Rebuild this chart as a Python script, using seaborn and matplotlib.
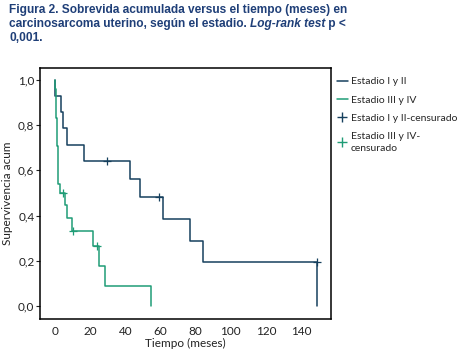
import matplotlib
matplotlib.use("Agg")
import matplotlib.pyplot as plt
import seaborn as sns
import pandas as pd
from matplotlib.lines import Line2D

# Kaplan-Meier steps
t_12 = [0, 0.2, 3.2, 4.4, 7.0, 16.6, 42.6, 48.3, 61.5, 76.7, 84.0, 149.0]
s_12 = [1.0, 0.929, 0.857, 0.786, 0.714, 0.643, 0.563, 0.482, 0.386, 0.289, 0.193, 0.0]
cens_t_12 = [29.4, 59.3, 149.0]
cens_s_12 = [0.643, 0.482, 0.193]

t_34 = [0, 0.2, 0.4, 0.6, 0.8, 1.0, 1.2, 1.4, 1.6, 1.9, 2.8, 5.7, 6.6, 9.5, 21.8, 24.8, 28.6, 54.5]
s_34 = [1.0, 0.958, 0.917, 0.875, 0.833, 0.792, 0.75, 0.708, 0.625, 0.54, 0.50, 0.447, 0.39, 0.333, 0.267, 0.178, 0.089, 0.0]
cens_t_34 = [4.4, 10.4, 23.7]
cens_s_34 = [0.50, 0.333, 0.267]

labels = ["Estadio I y II", "Estadio III y IV",
          "Estadio I y II-censurado", "Estadio III y IV-\ncensurado"]
yticks = [0.0, 0.2, 0.4, 0.6, 0.8, 1.0]
xticks = [0, 20, 40, 60, 80, 100, 120, 140]

navy = "#16405e"
green = "#1f9c76"

sns.set_style("white")
plt.rcParams["font.family"] = ["Lato", "DejaVu Sans"]

fig = plt.figure(figsize=(4.65, 3.55), dpi=100)
ax = fig.add_axes([40 / 465, 36 / 355, 291 / 465, 251 / 355])

df12 = pd.DataFrame({"t": t_12, "s": s_12})
df34 = pd.DataFrame({"t": t_34, "s": s_34})
sns.lineplot(data=df12, x="t", y="s", drawstyle="steps-post", estimator=None,
             sort=False, color=navy, lw=1.1, ax=ax)
sns.lineplot(data=df34, x="t", y="s", drawstyle="steps-post", estimator=None,
             sort=False, color=green, lw=1.1, ax=ax)
sns.scatterplot(x=cens_t_12, y=cens_s_12, marker="+", s=30, color=navy,
                linewidth=0.9, ax=ax)
sns.scatterplot(x=cens_t_34, y=cens_s_34, marker="+", s=30, color=green,
                linewidth=0.9, ax=ax)

ax.set_xlim(-8.5, 157)
ax.set_ylim(-0.058, 1.053)
ax.set_xticks(xticks)
ax.set_xticklabels([str(v) for v in xticks])
ax.set_yticks(yticks)
ax.set_yticklabels([f"{v:.1f}".replace(".", ",") for v in yticks])
ax.tick_params(axis="x", length=0, pad=5, labelsize=8.5, colors="#222222")
ax.tick_params(axis="y", length=3, width=0.8, direction="out", pad=1,
               labelsize=8.5, colors="#222222", left=True)
ax.set_xlabel("Tiempo (meses)", fontsize=8.5, labelpad=1, color="#222222")
ax.set_ylabel("Supervivencia acum", fontsize=8.5, labelpad=4, color="#222222")
for sp in ax.spines.values():
    sp.set_color("black")
    sp.set_linewidth(1.1)

handles = [Line2D([], [], color=navy, lw=1.1),
           Line2D([], [], color=green, lw=1.1),
           Line2D([], [], color=navy, marker="+", ls="none", ms=7),
           Line2D([], [], color=green, marker="+", ls="none", ms=7)]
leg = fig.legend(handles, labels, loc="upper left", bbox_to_anchor=(333 / 465, 1 - 73 / 355),
                 frameon=False, fontsize=7.5, handlelength=1.0, handletextpad=0.3,
                 labelspacing=0.85, borderaxespad=0)
leg.get_texts()[3].set_linespacing(1.5)

# title, with the italic part placed after the plain part
tcol = "#1f3f78"
tkw = dict(fontsize=8.6, fontweight="bold", color=tcol, va="center", ha="left",
           family=["Liberation Sans", "DejaVu Sans"])
fig.text(9 / 465, 1 - 10 / 355, "Figura 2. Sobrevida acumulada versus el tiempo (meses) en", **tkw)
r = fig.canvas.get_renderer()
p1 = fig.text(9 / 465, 1 - 24 / 355, "carcinosarcoma uterino, según el estadio. ", **tkw)
x1 = p1.get_window_extent(r).x1
p2 = fig.text(x1 / 465, 1 - 24 / 355, "Log-rank test", style="italic", **tkw)
x2 = p2.get_window_extent(r).x1
fig.text(x2 / 465, 1 - 24 / 355, " p <", **tkw)
fig.text(9 / 465, 1 - 38 / 355, "0,001.", **tkw)

fig.savefig("out.png", dpi=100)
